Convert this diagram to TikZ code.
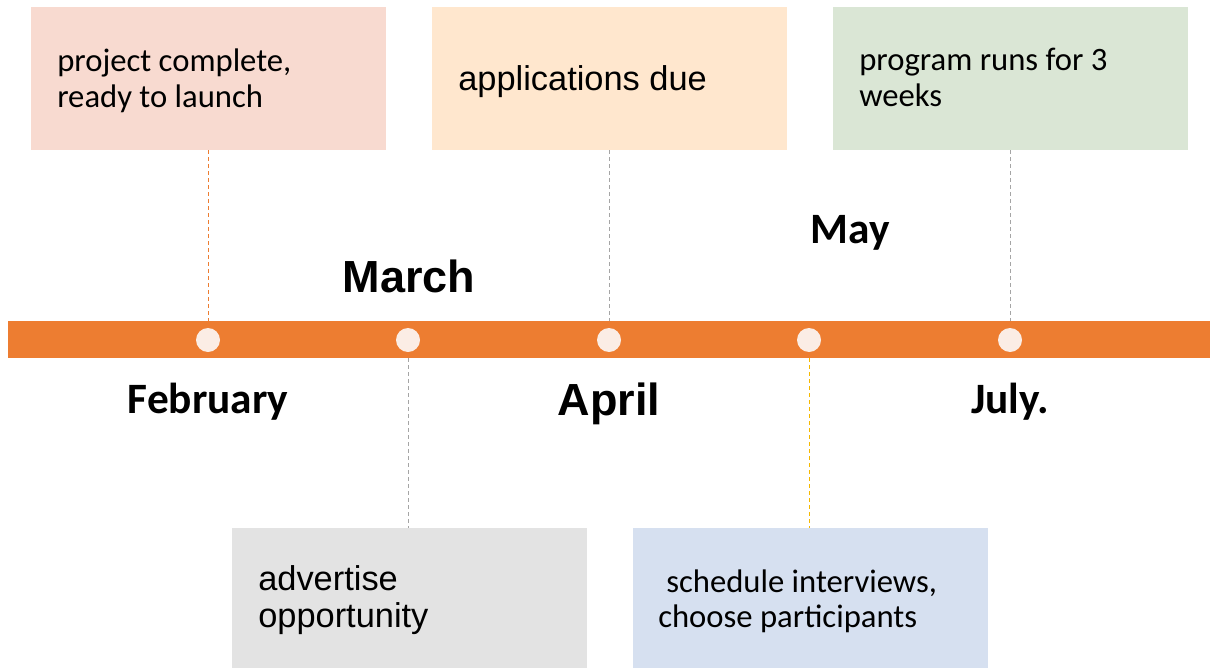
\documentclass[tikz,border=0pt]{standalone}
\usepackage{fontspec}
\setmainfont{Carlito}
\newfontfamily\arialf{Liberation Sans}
\definecolor{barorange}{HTML}{ED7D31}
\definecolor{dotcream}{HTML}{FBEDE5}
\definecolor{boxpink}{HTML}{F8DAD0}
\definecolor{boxpeach}{HTML}{FFE7CE}
\definecolor{boxgreen}{HTML}{DAE6D5}
\definecolor{boxgray}{HTML}{E3E3E3}
\definecolor{boxblue}{HTML}{D6E0F0}
\definecolor{linegray}{HTML}{A5A5A5}
\definecolor{lineyellow}{HTML}{F5B800}
\tikzset{
  evbox/.style={rectangle, draw=none, inner sep=0pt, minimum width=266.25pt, minimum height=107.25pt},
  lowbox/.style={evbox, minimum height=105pt},
  dot/.style={circle, fill=dotcream, draw=none, inner sep=0pt, minimum size=18pt},
  boxtext/.style={anchor=base west, inner sep=0pt, font=\fontsize{24.5}{27}\selectfont},
  arialtext/.style={anchor=base west, inner sep=0pt, align=left, font=\arialf\fontsize{25.8}{27}\selectfont},
  monthA/.style={anchor=base, inner sep=0pt, font=\arialf\bfseries\fontsize{33.75}{36}\selectfont},
  monthC/.style={anchor=base, inner sep=0pt, font=\bfseries\fontsize{32.5}{36}\selectfont},
  conn/.style={line width=0.75pt, dash pattern=on 3pt off 2.25pt},
}
\begin{document}
\begin{tikzpicture}[x=0.75pt,y=-0.75pt]
\useasboundingbox (0,0) rectangle (1216,667);
% boxes
\node[evbox, fill=boxpink]  (b1) at (208.5,78.5) {};
\node[evbox, fill=boxpeach] (b2) at (609.5,78.5) {};
\node[evbox, fill=boxgreen] (b3) at (1010,78.5) {};
\node[lowbox, fill=boxgray] (b4) at (409,598) {};
\node[lowbox, fill=boxblue] (b5) at (810,598) {};
% bar and dots
\node[rectangle, fill=barorange, inner sep=0pt, minimum width=901.5pt, minimum height=27.75pt] (bar) at (609,339.5) {};
\node[dot] (c1) at (208,340) {};
\node[dot] (c2) at (408,340) {};
\node[dot] (c3) at (609,340) {};
\node[dot] (c4) at (809,340) {};
\node[dot] (c5) at (1010,340) {};
% connectors
\draw[conn, barorange] (c1 |- b1.south) -- (c1 |- bar.north);
\draw[conn, linegray] (c3 |- b2.south) -- (c3 |- bar.north);
\draw[conn, linegray] (c5 |- b3.south) -- (c5 |- bar.north);
\draw[conn, linegray] (c2 |- bar.south) -- (c2 |- b4.north);
\draw[conn, lineyellow] (c4 |- bar.south) -- (c4 |- b5.north);
% box texts
\node[boxtext] (t1a) at (57,71) {project complete,};
\node[boxtext] (t1b) at (57,107) {ready to launch};
\node[arialtext] (t2) at (458,90) {applications due};
\node[boxtext] (t3a) at (859,70) {program runs for 3};
\node[boxtext] (t3b) at (859,106) {weeks};
\node[arialtext] (t4a) at (258,590) {advertise};
\node[arialtext] (t4b) at (258,627) {opportunity};
\node[boxtext] (t5a) at (666,592) {schedule interviews,};
\node[boxtext] (t5b) at (658,627) {choose participants};
% month labels
\node[monthA] (m2) at (409,292) {March};
\node[monthA] (m3) at (609,415) {April};
\node[monthC] (m1) at (208,413) {February};
\node[monthC] (m4) at (850,243) {May};
\node[monthC] (m5) at (1010,413) {July.};
\end{tikzpicture}
\end{document}
